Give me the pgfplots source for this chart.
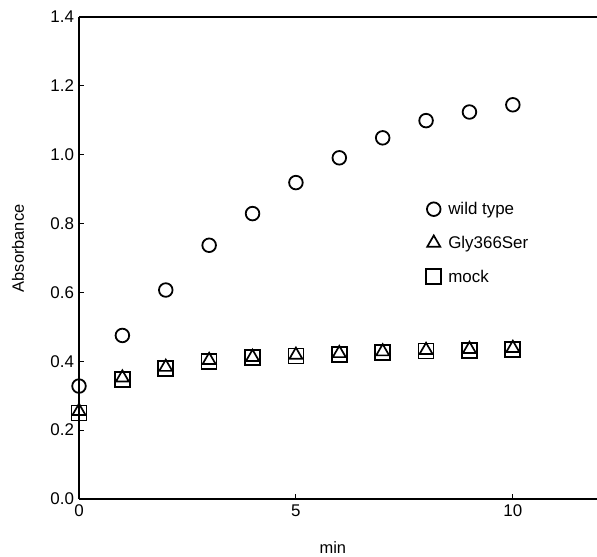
\documentclass[border=0pt]{standalone}
\usepackage{fontspec}
\setmainfont{Liberation Sans}
\usepackage{pgfplots}
\pgfplotsset{compat=1.18}

\pgfplotstableread{
x   wt     gly    mock
0   0.328  0.255  0.250
1   0.475  0.352  0.348
2   0.607  0.383  0.380
3   0.737  0.403  0.400
4   0.829  0.412  0.410
5   0.919  0.418  0.415
6   0.991  0.423  0.420
7   1.049  0.428  0.425
8   1.099  0.432  0.430
9   1.124  0.435  0.432
10  1.145  0.438  0.435
}\abstable

\begin{document}
\begin{tikzpicture}
\begin{axis}[
  at={(0,0)}, anchor=south west,
  scale only axis,
  width=518bp, height=482bp,
  xmin=0, xmax=11.94, ymin=0, ymax=1.4,
  axis x line=box, axis y line=left,
  axis line style={line width=1.4pt,-},
  xtick={0,5,10}, ytick={0,0.2,...,1.4},
  tick align=inside, major tick length=5bp,
  tick style={line width=1pt,black},
  xtick pos=bottom, ytick pos=left,
  /pgf/number format/assume math mode=true,
  yticklabel style={/pgf/number format/fixed,/pgf/number format/zerofill,/pgf/number format/precision=1,xshift=-1.5bp},
  xticklabel style={yshift=-2bp},
  tick label style={font=\fontsize{17}{20}\selectfont},
  xlabel={min}, ylabel={Absorbance},
  every axis x label/.style={at={(axis description cs:0.49,0)}, yshift=-49bp, anchor=center, font=\fontsize{16.5}{19}\selectfont},
  every axis y label/.style={at={(axis description cs:0,0.52)}, xshift=-61bp, rotate=90, anchor=center, font=\fontsize{16.5}{19}\selectfont},
  legend style={draw=none, fill=none, at={(axis description cs:0.67,0.618)}, anchor=north west,
    font=\fontsize{17}{20}\selectfont, row sep=18bp, column sep=5bp, inner sep=0pt,
    nodes={inner xsep=2bp, inner ysep=1bp}},
  legend image code/.code={\draw[#1] plot coordinates {(0bp,0bp)};},
  legend cell align=left,
  clip=false,
]
\addplot[only marks, mark=o, mark size=6.8bp, mark options={line width=1.8pt, black}] table[x=x,y=wt] {\abstable};
\addlegendentry{wild type}
\addplot[only marks, mark=triangle, mark size=7.5bp, mark options={line width=1.7pt, black}] table[x=x,y=gly] {\abstable};
\addlegendentry{Gly366Ser}
\addplot[only marks, mark=square, mark size=7.5bp, mark options={line width=1.7pt, black}] table[x=x,y=mock] {\abstable};
\addlegendentry{mock}
\end{axis}
\pgfresetboundingbox
\useasboundingbox (-79bp,-58bp) rectangle (518bp,499bp);
\end{tikzpicture}
\end{document}
